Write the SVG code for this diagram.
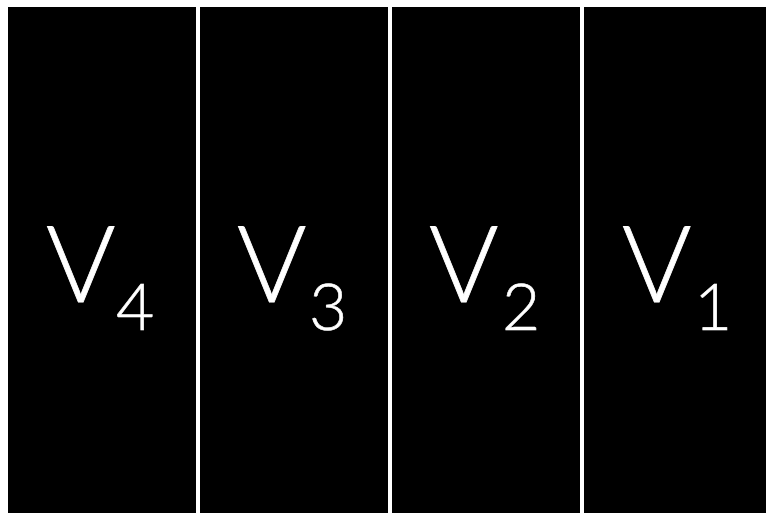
<svg xmlns="http://www.w3.org/2000/svg" width="766" height="513" viewBox="0 0 766 513">
<style>
.col{fill:#000}
.v{font-family:"Lato","Liberation Sans",sans-serif;font-weight:300;font-size:106px;fill:#fff;stroke:#fff;stroke-width:0.8px}
.s{font-family:"Lato","Liberation Sans",sans-serif;font-weight:300;font-size:66px;fill:#fff;stroke:#fff;stroke-width:0.6px}
</style>
<rect x="0" y="0" width="766" height="513" fill="#fff"/>
<g id="v4"><rect class="col" x="8" y="7" width="188" height="506"/><text class="v" x="46" y="302">V</text><text class="s" x="116" y="330">4</text></g>
<g id="v3"><rect class="col" x="200" y="7" width="188" height="506"/><text class="v" x="237" y="302">V</text><text class="s" x="309" y="330">3</text></g>
<g id="v2"><rect class="col" x="392" y="7" width="188" height="506"/><text class="v" x="429" y="302">V</text><text class="s" x="502" y="330">2</text></g>
<g id="v1"><rect class="col" x="584" y="7" width="182" height="506"/><text class="v" x="622" y="302">V</text><text class="s" x="694" y="330">1</text></g>
<g id="connectors"/>
</svg>
